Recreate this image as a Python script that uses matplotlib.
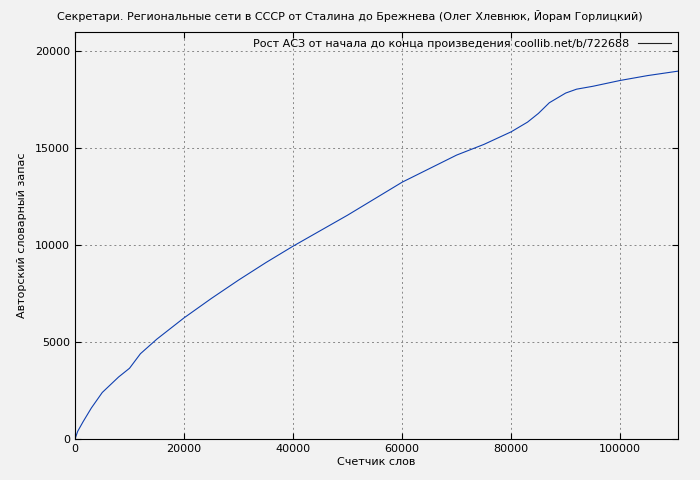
import matplotlib
matplotlib.use("Agg")
import matplotlib.pyplot as plt

words = [0, 500, 1500, 3000, 5000, 8000, 10000, 12000, 15000, 20000, 25000, 30000, 35000,
         40000, 45000, 50000, 55000, 60000, 65000, 70000, 75000, 80000, 83000, 85000,
         87000, 90000, 92000, 95000, 100000, 105000, 110600]
vocab = [0, 400, 900, 1600, 2400, 3200, 3650, 4400, 5150, 6250, 7250, 8200, 9100,
         9950, 10750, 11550, 12400, 13250, 13950, 14650, 15200, 15850, 16350, 16800,
         17350, 17850, 18050, 18200, 18500, 18750, 18980]

fig = plt.figure(figsize=(7, 4.8), dpi=100)
fig.patch.set_facecolor("#f2f2f2")
ax = fig.add_axes([75/700, 1-439/480, 603/700, 407/480])
ax.set_facecolor("#f2f2f2")
ax.plot(words, vocab, color="#1040b0", lw=0.8,
        label="Рост АСЗ от начала до конца произведения coollib.net/b/722688")
ax.set_xlim(0, 110600)
ax.set_ylim(0, 21000)
ax.set_xticks([0, 20000, 40000, 60000, 80000, 100000])
ax.set_yticks([0, 5000, 10000, 15000, 20000])
ax.grid(True, color="#888888", ls=(0, (2, 3)), lw=0.7)
ax.tick_params(labelsize=8, direction="in", length=4, top=True, right=True)
ax.set_xlabel("Счетчик слов", fontsize=8, labelpad=2)
ax.set_ylabel("Авторский словарный запас", fontsize=8, labelpad=6)
fig.text(0.5, 1-16/480, "Секретари. Региональные сети в СССР от Сталина до Брежнева (Олег Хлевнюк, Йорам Горлицкий)",
         fontsize=8, ha="center", va="center")
leg = ax.legend(loc="upper right", fontsize=8, frameon=False, markerfirst=False,
                handlelength=3, borderaxespad=0.2)
leg.get_lines()[0].set_color("#222222")
fig.savefig("out.png", dpi=100, facecolor=fig.get_facecolor())
